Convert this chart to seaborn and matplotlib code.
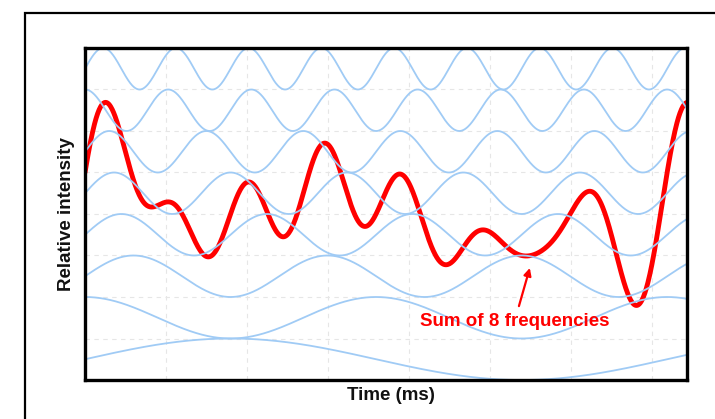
import numpy as np
import pandas as pd
import matplotlib
matplotlib.use("Agg")
import matplotlib.pyplot as plt
import seaborn as sns
from matplotlib.patches import Rectangle

# ---- data ----
harmonics = [1, 2, 3, 4, 5, 6, 7, 8]                 # frequency multiples (bottom -> top)
centers = [0.5, 1.5, 2.5, 3.5, 4.5, 5.5, 6.5, 7.5]    # vertical offset of each wave
amplitudes = [0.5, 0.5, 0.5, 0.5, 0.5, 0.5, 0.5, 0.5]
phases_deg = [0, 90, 0, 0, 0, 0, 90, 0]
fundamental_period = 7.185                           # in grid units
x_max = 7.43
sum_baseline = 4.0
annot_text = "Sum of 8 frequencies"
annot_tip = (5.49, 2.70)
annot_pos = (5.30, 1.40)

# ---- build long-form table ----
t = np.linspace(0, x_max, 1200)
rows = []
total = np.full_like(t, sum_baseline)
for h, c, a, p in zip(harmonics, centers, amplitudes, phases_deg):
    w = a * np.sin(2 * np.pi * h * t / fundamental_period + np.deg2rad(p))
    total = total + w
    rows.append(pd.DataFrame({"t": t, "y": c + w, "wave": f"f{h}"}))
waves = pd.concat(rows, ignore_index=True)
summed = pd.DataFrame({"t": t, "y": total})

sns.set_theme(style="white")
plt.rcParams['font.family'] = ['Liberation Sans', 'DejaVu Sans']

fig = plt.figure(figsize=(7.15, 4.19), dpi=100)
ax = fig.add_axes([85 / 715, 1 - 380 / 419, 602 / 715, 332 / 419])

sns.lineplot(data=summed, x="t", y="y", color="#ff0000", lw=3.5, ax=ax,
             zorder=2, estimator=None, sort=False)
sns.lineplot(data=waves, x="t", y="y", units="wave", estimator=None, sort=False,
             color="#a0cbf5", lw=1.3, ax=ax, zorder=3)

ax.set_xlim(0, x_max)
ax.set_ylim(0, 8)
ax.set_xticks(range(1, 8))
ax.set_yticks(range(1, 8))
ax.set_xticklabels([])
ax.set_yticklabels([])
ax.tick_params(length=0)
ax.grid(True, linestyle=(0, (4, 4)), color="#e6e6e6", lw=0.8)
for s in ax.spines.values():
    s.set_visible(True)
    s.set_color("black")
    s.set_linewidth(2.4)
    s.set_zorder(4)

ax.set_xlabel("Time (ms)", fontsize=13.5, fontweight="bold", color="#111111")
ax.set_ylabel("Relative intensity", fontsize=13.5, fontweight="bold", color="#111111")
ax.xaxis.set_label_coords(0.508, -0.02)
ax.yaxis.set_label_coords(-0.017, 0.5)

ax.annotate(annot_text, xy=annot_tip, xytext=annot_pos, ha="center", va="center",
            fontsize=13.5, fontweight="bold", color="#ff0000",
            arrowprops=dict(arrowstyle="-|>", color="#ff0000", lw=1.6,
                            mutation_scale=11, shrinkA=3, shrinkB=0))

fig.patches.append(Rectangle((25 / 715, -0.1), 1.0, (1 - 13 / 419) + 0.1,
                             transform=fig.transFigure, fill=False,
                             ec="black", lw=1.6))

fig.savefig("out.png", dpi=100)
